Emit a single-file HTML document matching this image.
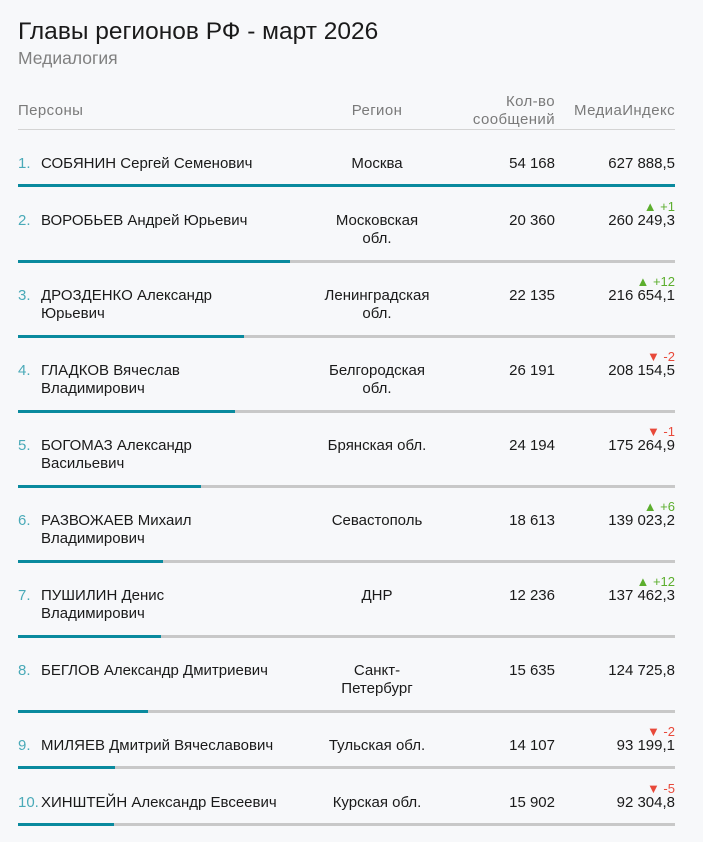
<!DOCTYPE html>
<html><head><meta charset="utf-8"><style>
body{margin:0;background:#f7f8fa;font-family:"Liberation Sans",sans-serif;color:#1a1a1a;}
#c{position:relative;width:703px;height:842px;overflow:hidden;}
.a{position:absolute;white-space:nowrap;line-height:18px;font-size:15px;}
.h{color:#7a7a7a;font-size:15px;letter-spacing:0.4px;}
.n{color:#4aaab8;}
.r{text-align:center;width:140px;}
.bar{position:absolute;left:18px;width:657px;height:3px;background:#c8c8c8;}
.bar i{display:block;height:3px;background:#0a8a9e;}
.up{color:#5cae2e;font-size:13px;}
.dn{color:#e8493a;font-size:13px;}
</style></head><body><div id="c">
<div class="a" style="left:18px;top:18px;font-size:24.5px;line-height:28px">Главы регионов РФ - март 2026</div>
<div class="a" style="left:18px;top:49px;font-size:17.5px;color:#808080">Медиалогия</div>
<div class="a h" style="left:18px;top:102px">Персоны</div>
<div class="a h" style="left:307px;top:102px;width:140px;text-align:center">Регион</div>
<div class="a h" style="right:148px;top:93px;text-align:right">Кол-во<br>сообщений</div>
<div class="a h" style="right:28px;top:102px">МедиаИндекс</div>
<div style="position:absolute;left:18px;top:129px;width:657px;height:1px;background:#d4d4d4"></div>

<div class="a" style="left:18px;top:155px"><span class="n">1.</span></div><div class="a" style="left:41px;top:155px">СОБЯНИН Сергей Семенович</div><div class="a r" style="left:307px;top:155px">Москва</div><div class="a" style="right:148px;top:155px">54 168</div><div class="a" style="right:28px;top:155px">627 888,5</div><div class="bar" style="top:184px"><i style="width:657px"></i></div>

<div class="a" style="left:18px;top:212px"><span class="n">2.</span></div><div class="a" style="left:41px;top:212px">ВОРОБЬЕВ Андрей Юрьевич</div><div class="a r" style="left:307px;top:212px">Московская<br>обл.</div><div class="a" style="right:148px;top:212px">20 360</div><div class="a up" style="right:28px;top:198px">▲ +1</div><div class="a" style="right:28px;top:212px">260 249,3</div><div class="bar" style="top:260px"><i style="width:272px"></i></div>

<div class="a" style="left:18px;top:287px"><span class="n">3.</span></div><div class="a" style="left:41px;top:287px">ДРОЗДЕНКО Александр<br>Юрьевич</div><div class="a r" style="left:307px;top:287px">Ленинградская<br>обл.</div><div class="a" style="right:148px;top:287px">22 135</div><div class="a up" style="right:28px;top:273px">▲ +12</div><div class="a" style="right:28px;top:287px">216 654,1</div><div class="bar" style="top:335px"><i style="width:226px"></i></div>

<div class="a" style="left:18px;top:362px"><span class="n">4.</span></div><div class="a" style="left:41px;top:362px">ГЛАДКОВ Вячеслав<br>Владимирович</div><div class="a r" style="left:307px;top:362px">Белгородская<br>обл.</div><div class="a" style="right:148px;top:362px">26 191</div><div class="a dn" style="right:28px;top:348px">▼ -2</div><div class="a" style="right:28px;top:362px">208 154,5</div><div class="bar" style="top:410px"><i style="width:217px"></i></div>

<div class="a" style="left:18px;top:437px"><span class="n">5.</span></div><div class="a" style="left:41px;top:437px">БОГОМАЗ Александр<br>Васильевич</div><div class="a r" style="left:307px;top:437px">Брянская обл.</div><div class="a" style="right:148px;top:437px">24 194</div><div class="a dn" style="right:28px;top:423px">▼ -1</div><div class="a" style="right:28px;top:437px">175 264,9</div><div class="bar" style="top:485px"><i style="width:183px"></i></div>

<div class="a" style="left:18px;top:512px"><span class="n">6.</span></div><div class="a" style="left:41px;top:512px">РАЗВОЖАЕВ Михаил<br>Владимирович</div><div class="a r" style="left:307px;top:512px">Севастополь</div><div class="a" style="right:148px;top:512px">18 613</div><div class="a up" style="right:28px;top:498px">▲ +6</div><div class="a" style="right:28px;top:512px">139 023,2</div><div class="bar" style="top:560px"><i style="width:145px"></i></div>

<div class="a" style="left:18px;top:587px"><span class="n">7.</span></div><div class="a" style="left:41px;top:587px">ПУШИЛИН Денис<br>Владимирович</div><div class="a r" style="left:307px;top:587px">ДНР</div><div class="a" style="right:148px;top:587px">12 236</div><div class="a up" style="right:28px;top:573px">▲ +12</div><div class="a" style="right:28px;top:587px">137 462,3</div><div class="bar" style="top:635px"><i style="width:143px"></i></div>

<div class="a" style="left:18px;top:662px"><span class="n">8.</span></div><div class="a" style="left:41px;top:662px">БЕГЛОВ Александр Дмитриевич</div><div class="a r" style="left:307px;top:662px">Санкт-<br>Петербург</div><div class="a" style="right:148px;top:662px">15 635</div><div class="a" style="right:28px;top:662px">124 725,8</div><div class="bar" style="top:710px"><i style="width:130px"></i></div>

<div class="a" style="left:18px;top:737px"><span class="n">9.</span></div><div class="a" style="left:41px;top:737px">МИЛЯЕВ Дмитрий Вячеславович</div><div class="a r" style="left:307px;top:737px">Тульская обл.</div><div class="a" style="right:148px;top:737px">14 107</div><div class="a dn" style="right:28px;top:723px">▼ -2</div><div class="a" style="right:28px;top:737px">93 199,1</div><div class="bar" style="top:766px"><i style="width:97px"></i></div>

<div class="a" style="left:18px;top:794px"><span class="n">10.</span></div><div class="a" style="left:41px;top:794px">ХИНШТЕЙН Александр Евсеевич</div><div class="a r" style="left:307px;top:794px">Курская обл.</div><div class="a" style="right:148px;top:794px">15 902</div><div class="a dn" style="right:28px;top:780px">▼ -5</div><div class="a" style="right:28px;top:794px">92 304,8</div><div class="bar" style="top:823px"><i style="width:96px"></i></div>
</div></body></html>
